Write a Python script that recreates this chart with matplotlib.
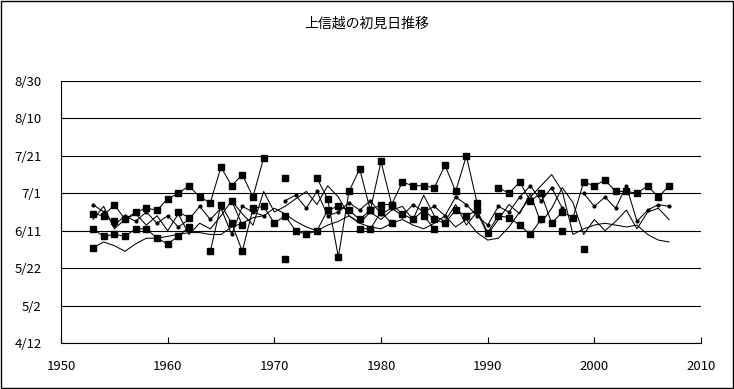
import numpy as np
import matplotlib
matplotlib.use("Agg")
import matplotlib.pyplot as plt
from matplotlib.patches import Rectangle

plt.rcParams['font.family'] = ['Noto Sans CJK JP', 'DejaVu Sans']

# --- data: first-sighting day of year (non-leap), 1953-2007 ---
nan = np.nan
years = np.arange(1953, 2008)

sq_high = [171, 170, 176, 168, 172, 174, 173, 179, 182, 186,
           180, 177, 196, 186, 192, 180, 201, nan, 190, nan,
           nan, 190, 179, 148, 183, 195, 173, 199, 176, 188,
           186, 186, 185, 197, 183, 202, 177, nan, 185, 182,
           188, 178, 182, 166, 172, 169, 188, 186, 189, 183,
           183, 182, 186, 180, 186]

sq_mid = [163, 159, 160, 159, 163, 163, 158, 155, 159, 164,
          nan, 151, 176, 166, 151, 174, 175, 166, 170, 162,
          160, 162, 173, 175, 173, 168, 173, 176, 176, 171,
          168, 173, 168, 166, 173, 170, 173, 161, 170, 169,
          165, 160, 168, nan, 162, nan, nan, nan, nan, nan,
          nan, nan, nan, nan, nan]

sq_low = [153, nan, 167, nan, nan, nan, nan, nan, 172, 169,
          nan, nan, nan, 178, 165, nan, nan, nan, 147, nan,
          nan, nan, nan, nan, nan, 163, 163, 172, 166, nan,
          nan, 170, 163, nan, nan, nan, nan, nan, nan, nan,
          nan, nan, nan, nan, nan, nan, 152, nan, nan, nan,
          nan, nan, nan, nan, nan]

dot_line = [176, 172, 165, 170, 167, 172, 166, 170, 164, 168,
            175, 168, 174, 160, 175, 172, 170, nan, 178, 181,
            174, 183, 170, 172, 177, 173, 178, 171, 174, 170,
            176, 172, 175, 170, 180, 176, 170, 165, 175, 172,
            180, 186, 178, 185, 174, nan, 182, 175, 180, 174,
            186, 167, 173, 176, 175]

plain_a = [168, 175, 163, 168, 171, 165, 170, 162, 171, 160,
           166, 163, 170, 178, 171, 165, 183, 172, 175, 179,
           183, 176, 186, 180, 170, 166, 172, 168, 173, 175,
           168, 181, 170, 167, 176, 165, 172, 160, 168, 176,
           171, 182, 166, 174, 185, 177, 160, 168, 162, 167,
           173, 163, 172, 174, 168]

plain_b = [153, 156, 154, 151, 155, 158, 158, 159, 160, 161,
           161, 160, 160, 164, 166, 169, 170, 174, 171, 167,
           164, 162, 165, 167, 170, 166, 164, 163, 166, 168,
           165, 163, 166, 170, 164, 168, 161, 157, 158, 164,
           172, 180, 186, 192, 183, 160, 163, 165, 166, 165,
           164, 165, 160, 157, 156]

ytick_days = [102, 122, 142, 162, 182, 202, 222, 242]
ytick_labels = ["4/12", "5/2", "5/22", "6/11", "7/1", "7/21", "8/10", "8/30"]
xticks = [1950, 1960, 1970, 1980, 1990, 2000, 2010]
title = "上信越の初見日推移"

# --- figure ---
fig = plt.figure(figsize=(7.34, 3.89), dpi=100)
ax = fig.add_axes([61 / 734, 1 - 343 / 389, 640 / 734, 262 / 389])

for d in ytick_days:
    ax.axhline(d, color="black", lw=0.8, zorder=1)

lw = 0.75
ax.plot(years, plain_b, color="black", lw=lw, zorder=2)
ax.plot(years, plain_a, color="black", lw=lw, zorder=2)
ax.plot(years, dot_line, color="black", lw=lw, marker="o", ms=2, zorder=3)
for s in (sq_low, sq_mid, sq_high):
    ax.plot(years, s, color="black", lw=lw, marker="s", ms=4.5, zorder=4)

ax.set_xlim(1950, 2010)
ax.set_ylim(102, 242)
ax.set_xticks(xticks)
ax.set_yticks(ytick_days)
ax.set_yticklabels(ytick_labels)
ax.tick_params(axis="x", direction="in", length=4, pad=12, labelsize=9.5)
ax.tick_params(axis="y", length=0, pad=14, labelsize=9.5)
for side in ("top", "right"):
    ax.spines[side].set_visible(False)
ax.spines["left"].set_linewidth(0.8)
ax.spines["bottom"].set_linewidth(0.8)

fig.text(0.5, 1 - 24 / 389, title, ha="center", va="center", fontsize=10)
fig.add_artist(Rectangle((0.001, 0.002), 0.997, 0.995, transform=fig.transFigure,
                         fill=False, edgecolor="black", lw=1))

fig.savefig("out.png", dpi=100)
